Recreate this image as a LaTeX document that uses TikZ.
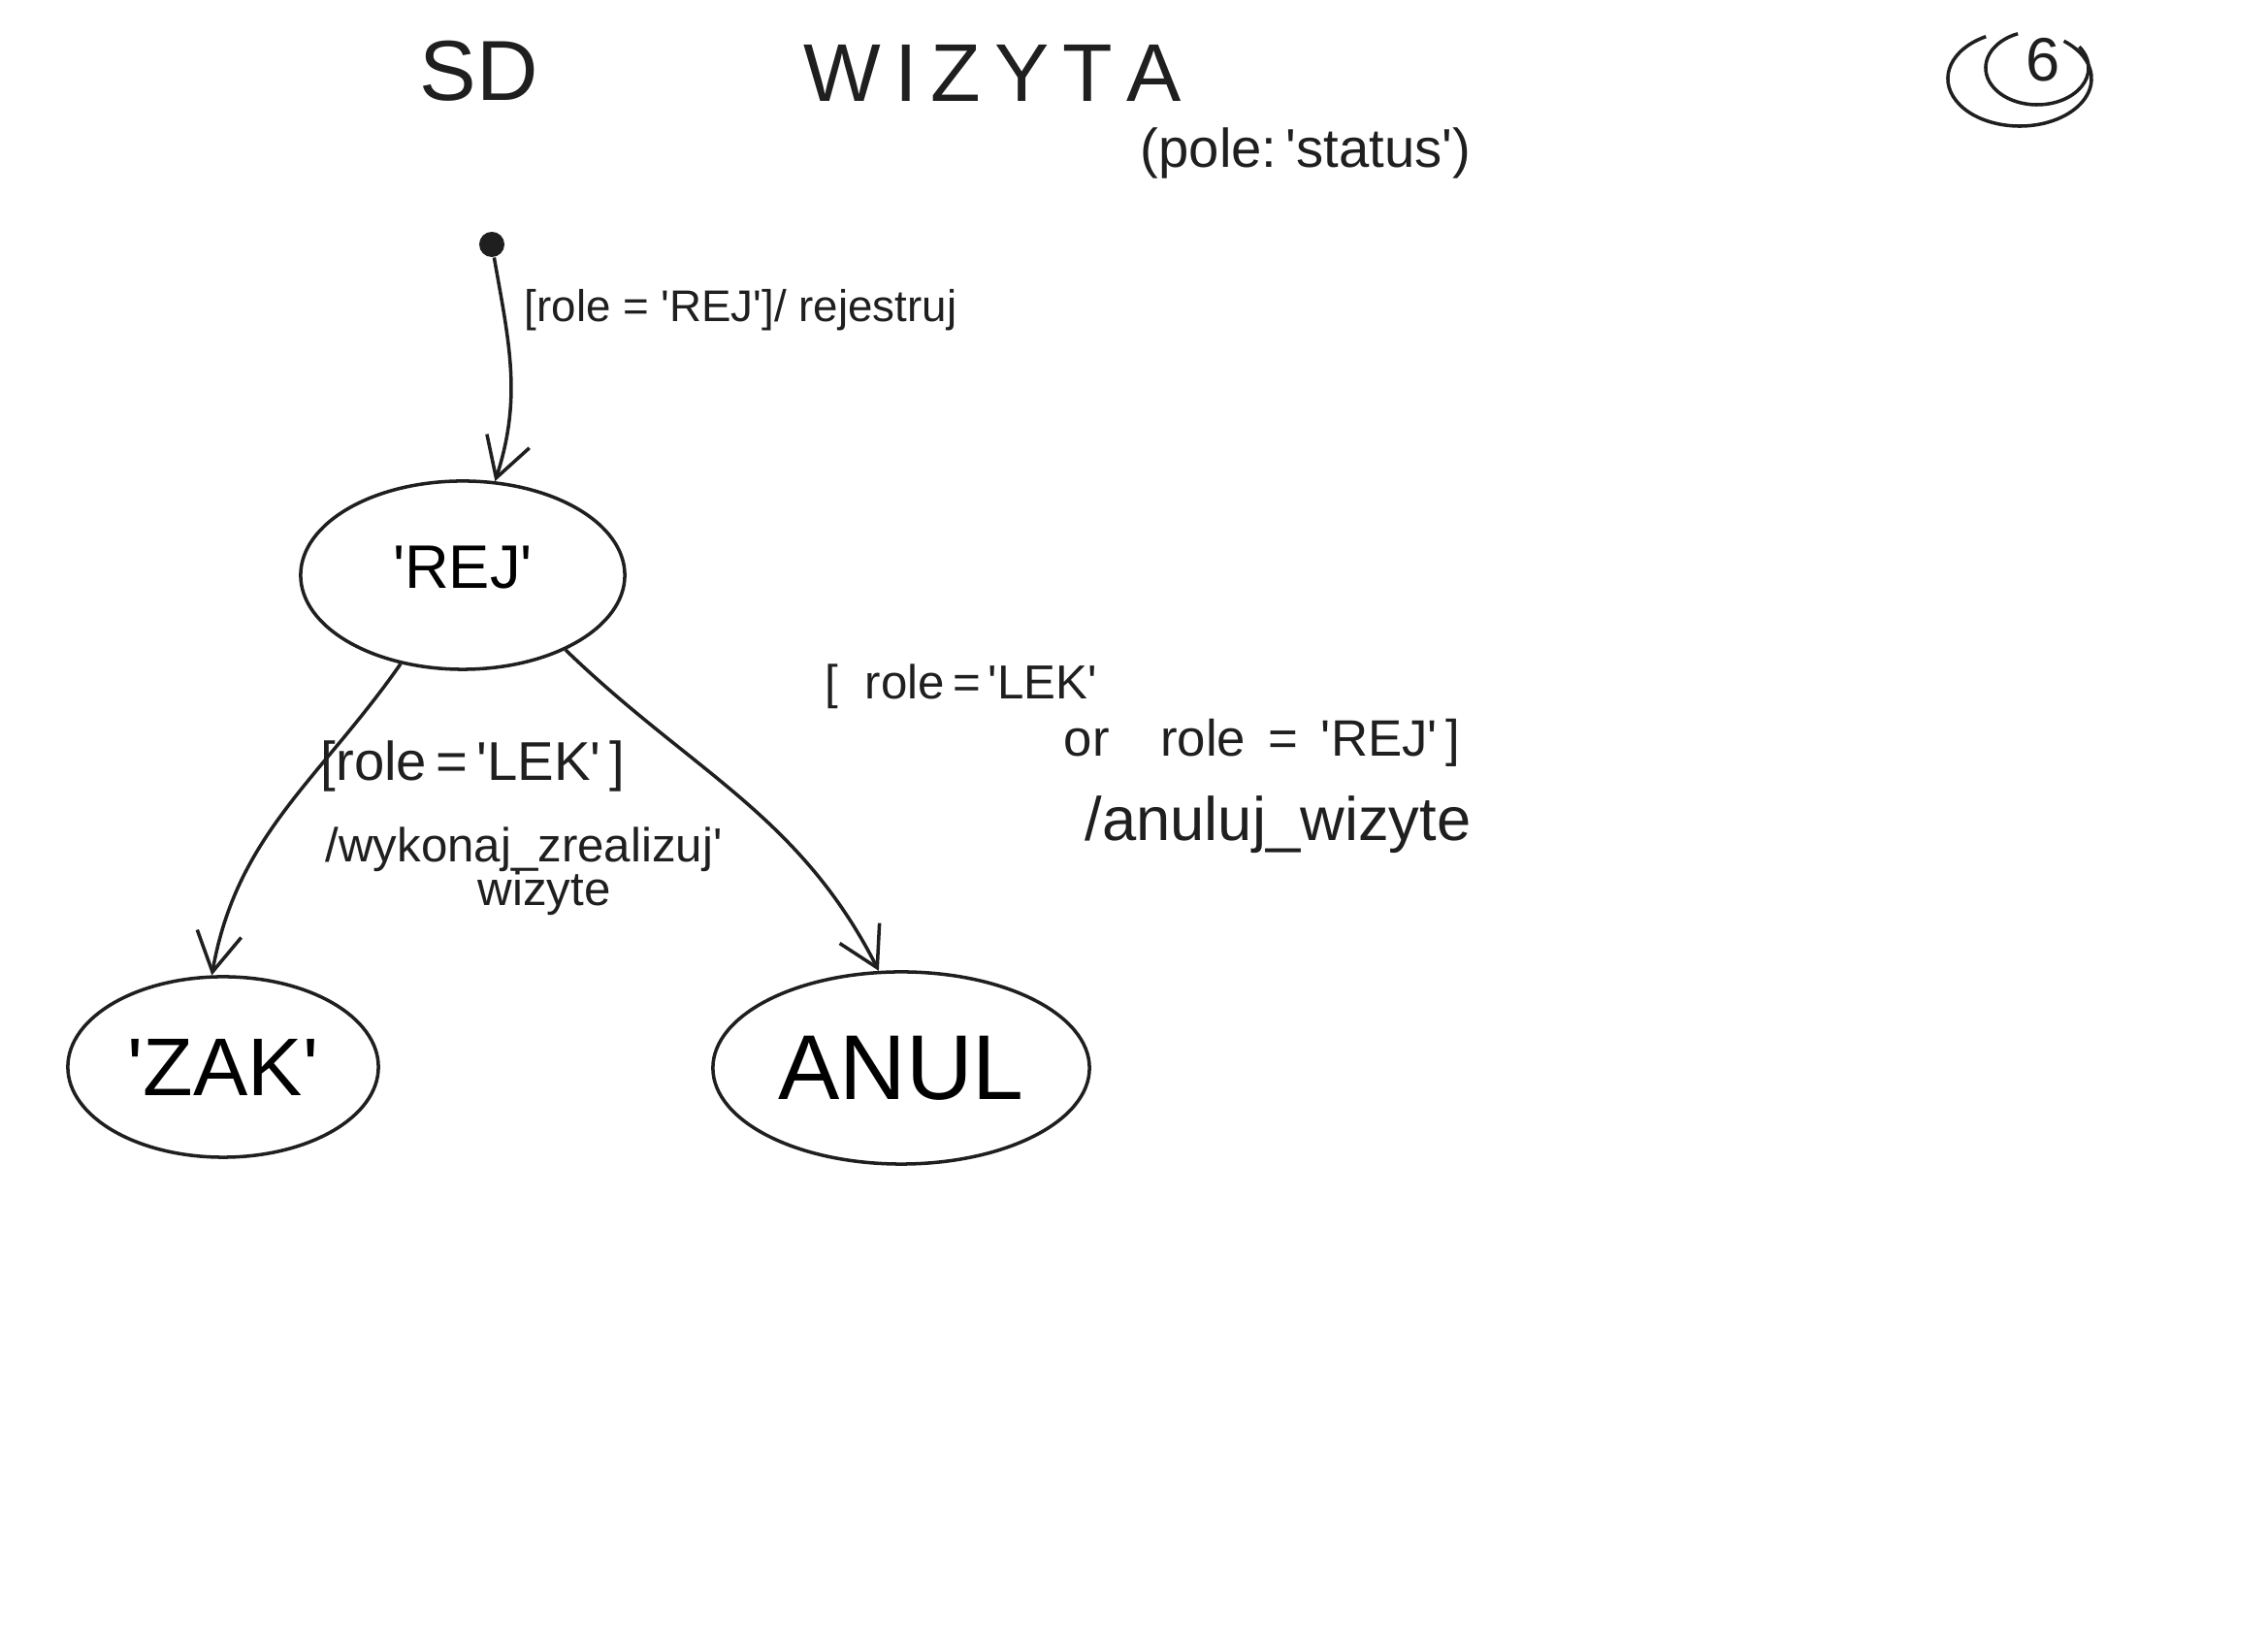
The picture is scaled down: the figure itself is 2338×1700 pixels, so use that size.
\documentclass[tikz,border=0pt]{standalone}
\usepackage{fontspec}
\setmainfont{Liberation Sans}
\usetikzlibrary{shapes.geometric,arrows.meta}
\newcommand\q{\textquotesingle}
\newcommand\fs[1]{\fontsize{#1}{#1}\selectfont}
\begin{document}
\begin{tikzpicture}[x=0.01cm,y=0.01cm,
  pen/.style={draw=black!88, line width=1pt},
  state/.style={pen, ellipse, inner sep=0pt},
  hand/.style={anchor=west, inner sep=0pt, text=black!88},
  arr/.style={pen, -{Straight Barb[length=4mm,width=4.6mm,line width=1pt]}}]
\fill[white] (0,0) rectangle (2338,1700);
\useasboundingbox (0,0) rectangle (2338,1700);
% header
\node[hand, anchor=center, font=\fs{25}] (sd) at (494,1627) {SD};
\node[hand, anchor=center, font=\fs{24}] (title) at (1023,1625) {W\,I\,Z\,Y\,T\,A};
\node[hand, anchor=center, font=\fs{16}] (pole) at (1346,1542) {(pole:\,\q status\q)};
% page number in spiral
\node[hand, anchor=center, font=\fs{18}] (six) at (2106,1638) {6};
\draw[pen] (2082,1619) ++(118:0.74cm and 0.49cm) arc[start angle=118, end angle=412, x radius=0.74cm, y radius=0.49cm];
\draw[pen] (2100,1630) ++(112:0.53cm and 0.38cm) arc[start angle=112, end angle=395, x radius=0.53cm, y radius=0.38cm];
% states
\node[circle, fill=black!88, minimum size=0.26cm, inner sep=0pt] (init) at (507,1448) {};
\node[state, minimum width=3.34cm, minimum height=1.94cm, font=\fs{18}] (rej) at (477,1107) {\raisebox{0.5ex}{\q REJ\q}};
\node[state, minimum width=3.2cm, minimum height=1.86cm, font=\fs{24}] (zak) at (230,600) {\q ZAK\q};
\node[state, minimum width=3.88cm, minimum height=1.98cm, font=\fs{27}] (anul) at (929,599) {ANUL};
% transitions
\draw[arr] (init.-80) to[out=-80, in=72] (rej.71);
\draw[arr] (rej.235) to[out=-125, in=80] (zak.97);
\draw[arr] (rej.-36) to[out=-44, in=117] (anul.103);
% labels
\node[hand, font=\fs{13}] (lab1) at (540,1380) {[role = \q REJ\q]/ rejestruj};
\node[hand, font=\fs{16}] (lab2a) at (330,910) {[role\,=\,\q LEK\q\,]};
\node[hand, font=\fs{14}] (lab2b) at (335,824) {/wykonaj\_zrealizuj\q};
\node[hand, font=\fs{14}] (lab2c) at (492,779) {wizyte};
\node[hand, font=\fs{14}] (lab3a) at (850,992) {[\ \ role\,=\,\q LEK\q};
\node[hand, font=\fs{15}] (lab3b) at (1096,934) {or\quad role\ \,=\ \,\q REJ\q\,]};
\node[hand, font=\fs{18}] (lab3c) at (1118,850) {/anuluj\_wizyte};
\end{tikzpicture}
\end{document}
